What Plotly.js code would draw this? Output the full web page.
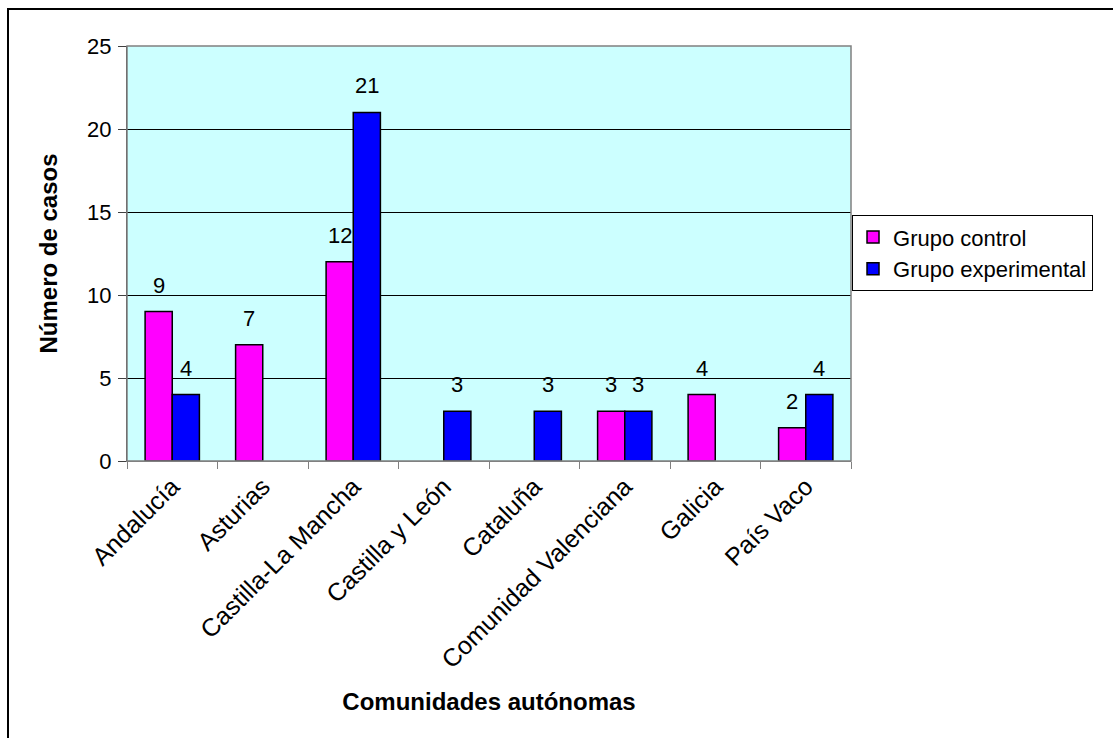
<!DOCTYPE html>
<html>
<head>
<meta charset="utf-8">
<script src="https://cdn.plot.ly/plotly-3.0.1.min.js"></script>
<style>
  html, body { margin: 0; padding: 0; background: #fff; overflow: hidden; }
  #chart { position: absolute; left: 0; top: 0; width: 1113px; height: 738px; }
  #frame { position: absolute; left: 7px; top: 8px; width: 2000px; height: 2000px;
           border-left: 2px solid #000; border-top: 2px solid #000; pointer-events: none; }
</style>
</head>
<body>
<div id="chart"></div>
<div id="frame"></div>
<script>
// Regions and case counts per group (null = no cases, no bar drawn)
const comunidades = ['Andalucía', 'Asturias', 'Castilla-La Mancha', 'Castilla y León',
                     'Cataluña', 'Comunidad Valenciana', 'Galicia', 'País Vaco'];
const grupoControl = [9, 7, 12, null, null, 3, 4, 2];
const grupoExperimental = [4, null, 21, 3, 3, 3, null, 4];
const yTicks = [0, 5, 10, 15, 20, 25];

const FONT = 'Liberation Sans, Arial, sans-serif';
const PLOT_W = 724;
const halfBar = PLOT_W / comunidades.length * 0.6 / 4;

const traces = [
  {
    type: 'bar', name: 'Grupo control', x: comunidades, y: grupoControl,
    marker: { color: '#FF00FF', line: { color: '#000', width: 1.5 } },
    hoverinfo: 'skip'
  },
  {
    type: 'bar', name: 'Grupo experimental', x: comunidades, y: grupoExperimental,
    marker: { color: '#0000FF', line: { color: '#000', width: 1.5 } },
    hoverinfo: 'skip'
  }
];

// Value labels above each bar
const annotations = [];
[[grupoControl, -halfBar], [grupoExperimental, halfBar]].forEach(([vals, dx]) => {
  vals.forEach((v, i) => {
    if (v === null) return;
    annotations.push({
      x: comunidades[i], y: v, xref: 'x', yref: 'y',
      text: String(v), showarrow: false, xshift: dx, yanchor: 'bottom', yshift: 12,
      font: { family: FONT, size: 22, color: '#000' }
    });
  });
});

const layout = {
  width: 1113, height: 738,
  margin: { l: 127, r: 262, t: 46, b: 277 },
  paper_bgcolor: '#FFFFFF',
  plot_bgcolor: '#CCFFFF',
  font: { family: FONT, size: 22, color: '#000' },
  barmode: 'group', bargap: 0.4, bargroupgap: 0,
  showlegend: true,
  legend: {
    x: 1.0014, xanchor: 'left', y: 0.592, yanchor: 'top',
    bgcolor: '#FFFFFF', bordercolor: '#000', borderwidth: 1,
    itemwidth: 30,
    font: { family: FONT, size: 22, color: '#000' }
  },
  xaxis: {
    type: 'category', tickson: 'boundaries', tickangle: -45,
    ticks: 'outside', ticklen: 7, tickcolor: '#808080', tickwidth: 1,
    showline: true, linecolor: '#808080', linewidth: 1,
    showgrid: false, zeroline: false, automargin: false,
    tickfont: { family: FONT, size: 25, color: '#000' },
    title: { text: 'Comunidades autónomas', standoff: 20,
             font: { family: FONT, size: 24, color: '#000', weight: 'bold' } }
  },
  yaxis: {
    range: [0, 25], tickvals: yTicks, ticktext: yTicks.map(String),
    ticks: 'outside', ticklen: 8, tickcolor: '#404040', tickwidth: 1,
    ticklabelstandoff: 2,
    showline: true, linecolor: '#404040', linewidth: 1,
    showgrid: true, gridcolor: '#000', gridwidth: 1, zeroline: false, automargin: false,
    tickfont: { family: FONT, size: 22, color: '#000' },
    title: { text: 'Número de casos', standoff: 22,
             font: { family: FONT, size: 24, color: '#000', weight: 'bold' } }
  },
  shapes: [
    { type: 'rect', xref: 'paper', yref: 'paper', x0: 0, x1: 1, y0: 0, y1: 1,
      line: { color: '#808080', width: 1.5 }, layer: 'above' }
  ],
  annotations: annotations
};

Plotly.newPlot('chart', traces, layout, { staticPlot: true, displayModeBar: false });
</script>
</body>
</html>
